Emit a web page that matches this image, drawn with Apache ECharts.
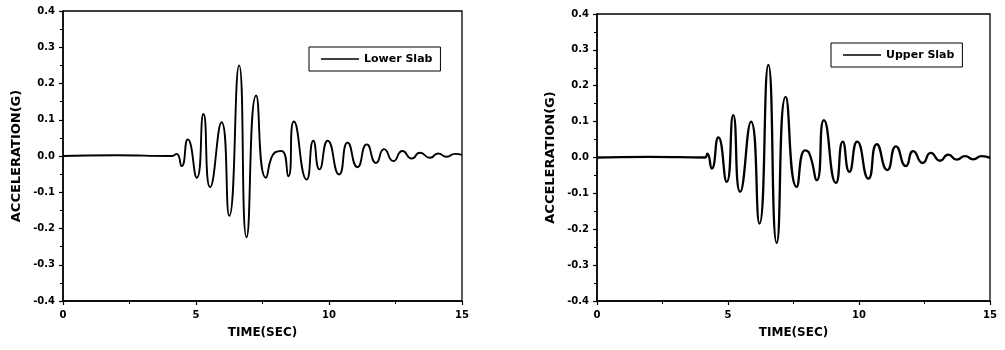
<!DOCTYPE html>
<html>
<head>
<meta charset="utf-8">
<script src="https://cdn.jsdelivr.net/npm/echarts@6/dist/echarts.min.js"></script>
<style>
html,body{margin:0;padding:0;background:#fff;}
#chart{width:1005px;height:350px;}
</style>
</head>
<body>
<div id="chart"></div>
<script>
// ---- data ----
const lowerT = [0, 2, 4.1, 4.27, 4.46, 4.69, 5.03, 5.28, 5.53, 5.96, 6.25, 6.62, 6.9, 7.26, 7.63, 7.97, 8.22, 8.47, 8.68, 9.16, 9.41, 9.64, 9.95, 10.38, 10.7, 11.07, 11.42, 11.77, 12.07, 12.42, 12.76, 13.11, 13.42, 13.8, 14.1, 14.42, 14.74, 15];
const lowerA = [0, 0.002, 0, 0.006, -0.028, 0.046, -0.06, 0.116, -0.086, 0.093, -0.165, 0.25, -0.224, 0.167, -0.06, 0.01, 0.014, -0.056, 0.095, -0.065, 0.042, -0.037, 0.042, -0.051, 0.037, -0.031, 0.032, -0.019, 0.019, -0.014, 0.014, -0.007, 0.009, -0.005, 0.007, -0.002, 0.006, 0.003];
const upperT = [0, 2, 4.12, 4.21, 4.38, 4.63, 4.95, 5.2, 5.46, 5.88, 6.2, 6.54, 6.86, 7.2, 7.62, 7.94, 8.1, 8.39, 8.66, 9.12, 9.38, 9.63, 9.93, 10.36, 10.68, 11.08, 11.41, 11.79, 12.07, 12.43, 12.74, 13.09, 13.41, 13.73, 14.05, 14.36, 14.68, 15];
const upperA = [0, 0.002, 0, 0.011, -0.031, 0.056, -0.068, 0.118, -0.096, 0.1, -0.184, 0.258, -0.238, 0.169, -0.082, 0.02, 0.012, -0.063, 0.104, -0.071, 0.044, -0.04, 0.044, -0.059, 0.037, -0.035, 0.031, -0.024, 0.018, -0.015, 0.013, -0.009, 0.008, -0.006, 0.004, -0.005, 0.004, -0.001];
const seriesNames = ['Lower Slab', 'Upper Slab'];
const xTitle = 'TIME(SEC)';
const yTitle = 'ACCELERATION(G)';

const FONT = '"DejaVu Sans", sans-serif';
const chart = echarts.init(document.getElementById('chart'), null, {renderer: 'canvas'});

function pairs(t, a) { return t.map((v, i) => [v, a[i]]); }

function xAxis(gi) {
  return {
    type: 'value', gridIndex: gi, min: 0, max: 15, interval: 5,
    name: xTitle, nameLocation: 'middle', nameGap: 26,
    nameTextStyle: {fontFamily: FONT, fontWeight: 'bold', fontSize: 12, color: '#000'},
    axisLine: {show: true, onZero: false, lineStyle: {color: '#000', width: 1.5}},
    axisTick: {show: true, inside: false, length: 4, lineStyle: {color: '#000', width: 1.2}},
    minorTick: {show: true, splitNumber: 2, length: 3, lineStyle: {color: '#000', width: 1}},
    axisLabel: {fontFamily: FONT, fontWeight: 'bold', fontSize: 10, color: '#000', margin: 9},
    splitLine: {show: false}
  };
}
function yAxis(gi) {
  return {
    type: 'value', gridIndex: gi, min: -0.4, max: 0.4, interval: 0.1,
    name: yTitle, nameLocation: 'middle', nameGap: 40, nameRotate: 90,
    nameTextStyle: {fontFamily: FONT, fontWeight: 'bold', fontSize: 13, color: '#000'},
    axisLine: {show: true, onZero: false, lineStyle: {color: '#000', width: 1.5}},
    axisTick: {show: true, inside: false, length: 4, lineStyle: {color: '#000', width: 1.2}},
    minorTick: {show: true, splitNumber: 2, length: 3, lineStyle: {color: '#000', width: 1}},
    axisLabel: {fontFamily: FONT, fontWeight: 'bold', fontSize: 10, color: '#000', margin: 8,
      formatter: v => (Math.abs(v) < 1e-9 ? 0 : v).toFixed(1)},
    splitLine: {show: false}
  };
}
function legend(name, left, top) {
  return {
    data: [{name: name, icon: 'rect'}], left: left, top: top,
    orient: 'horizontal', itemWidth: 38, itemHeight: 1.5,
    padding: [5, 8, 5, 12],
    borderColor: '#000', borderWidth: 1, borderRadius: 0,
    backgroundColor: '#fff',
    textStyle: {fontFamily: FONT, fontWeight: 'bold', fontSize: 11, color: '#000', lineHeight: 14}
  };
}

chart.setOption({
  animation: false,
  backgroundColor: '#fff',
  grid: [
    {left: 63, top: 11, width: 399, height: 290, show: true, borderColor: '#000', borderWidth: 1.3, backgroundColor: 'transparent'},
    {left: 597, top: 14, width: 393, height: 287, show: true, borderColor: '#000', borderWidth: 1.3, backgroundColor: 'transparent'}
  ],
  xAxis: [xAxis(0), xAxis(1)],
  yAxis: [yAxis(0), yAxis(1)],
  legend: [legend(seriesNames[0], 309, 47), legend(seriesNames[1], 831, 43)],
  series: [
    {name: seriesNames[0], type: 'line', xAxisIndex: 0, yAxisIndex: 0, data: pairs(lowerT, lowerA),
     smooth: 0.6, symbol: 'none', lineStyle: {color: '#000', width: 1.9}, itemStyle: {color: '#000'}},
    {name: seriesNames[1], type: 'line', xAxisIndex: 1, yAxisIndex: 1, data: pairs(upperT, upperA),
     smooth: 0.6, symbol: 'none', lineStyle: {color: '#000', width: 2.3}, itemStyle: {color: '#000'}}
  ]
});
</script>
</body>
</html>
